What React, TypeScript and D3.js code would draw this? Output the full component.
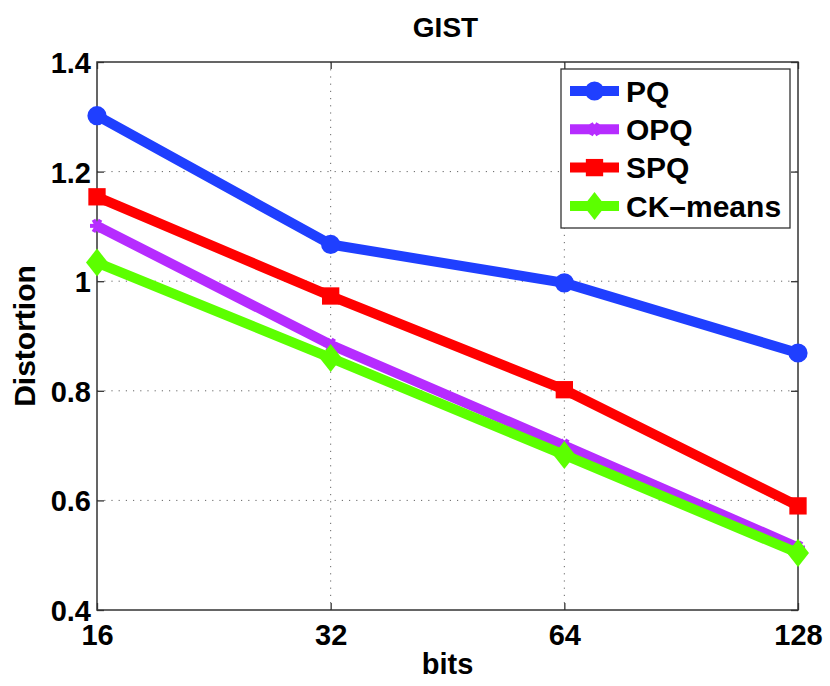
import { useEffect, useRef } from 'react'
import { select, scaleLog, scaleLinear, axisBottom, axisLeft, axisTop, axisRight, line, symbol, symbolCircle, symbolSquare, symbolDiamond } from 'd3'

const bits = [16, 32, 64, 128]
const yTicks = [0.4, 0.6, 0.8, 1, 1.2, 1.4]
const pq = [1.302, 1.067, 0.997, 0.869]
const opq = [1.101, 0.884, 0.700, 0.514]
const spq = [1.154, 0.973, 0.802, 0.590]
const ckmeans = [1.034, 0.860, 0.683, 0.504]

const series = [
  { name: 'PQ', values: pq, color: '#1f3fff', marker: 'circle' },
  { name: 'OPQ', values: opq, color: '#b62cff', marker: 'star' },
  { name: 'SPQ', values: spq, color: '#ff0000', marker: 'square' },
  { name: 'CK\u2013means', values: ckmeans, color: '#5cff00', marker: 'diamond' },
]

const W = 830
const H = 686
const left = 97
const right = 798
const top = 62
const bottom = 610
const font = 'Liberation Sans, Arial, Helvetica, sans-serif'

function drawMarker(g: any, kind: string, cx: number, cy: number, color: string) {
  if (kind === 'circle') {
    g.append('path').attr('d', symbol(symbolCircle, 290)()).attr('transform', `translate(${cx},${cy})`).attr('fill', color)
  } else if (kind === 'square') {
    g.append('path').attr('d', symbol(symbolSquare, 300)()).attr('transform', `translate(${cx},${cy})`).attr('fill', color)
  } else if (kind === 'diamond') {
    g.append('path')
      .attr('d', 'M0,-14L11,0L0,14L-11,0Z')
      .attr('transform', `translate(${cx},${cy})`)
      .attr('fill', color)
  } else {
    // small asterisk, mostly hidden under the line
    for (let a = 0; a < 3; a++) {
      const ang = (a * Math.PI) / 3
      g.append('line')
        .attr('x1', cx - 7 * Math.cos(ang)).attr('y1', cy - 7 * Math.sin(ang))
        .attr('x2', cx + 7 * Math.cos(ang)).attr('y2', cy + 7 * Math.sin(ang))
        .attr('stroke', color).attr('stroke-width', 4)
    }
  }
}

export default function App() {
  const svgRef = useRef<SVGSVGElement | null>(null)

  useEffect(() => {
    const svg = select(svgRef.current)
    svg.selectAll('*').remove()

    const x = scaleLog().base(2).domain([16, 128]).range([left, right])
    const y = scaleLinear().domain([0.4, 1.4]).range([bottom, top])

    // grid
    const grid = svg.append('g')
    grid.selectAll('.gx').data(bits.slice(1, -1)).join('line')
      .attr('x1', (d) => x(d)).attr('x2', (d) => x(d)).attr('y1', top).attr('y2', bottom)
      .attr('stroke', '#666').attr('stroke-width', 1).attr('stroke-dasharray', '1.2,6')
    grid.selectAll('.gy').data(yTicks.slice(1, -1)).join('line')
      .attr('y1', (d) => y(d)).attr('y2', (d) => y(d)).attr('x1', left).attr('x2', right)
      .attr('stroke', '#666').attr('stroke-width', 1).attr('stroke-dasharray', '1.2,6')

    // axes
    const styleAxis = (g: any) => {
      g.select('.domain').remove()
      g.selectAll('.tick line').attr('stroke', '#333').attr('stroke-width', 1.3)
      g.selectAll('text').attr('font-family', font).attr('font-weight', 'bold').attr('font-size', 29).attr('fill', '#000')
    }
    const xa = svg.append('g').attr('transform', `translate(0,${bottom})`)
      .call(axisBottom(x).tickValues(bits).tickFormat((d: any) => String(d)).tickSize(-7) as any)
    styleAxis(xa)
    xa.selectAll('text').attr('y', 35).attr('dy', 0)

    const ya = svg.append('g').attr('transform', `translate(${left},0)`)
      .call(axisLeft(y).tickValues(yTicks).tickFormat((d: any) => String(d)).tickSize(-7) as any)
    styleAxis(ya)
    ya.selectAll('text').attr('x', -6).attr('dy', '0.36em')

    const xt = svg.append('g').attr('transform', `translate(0,${top})`)
      .call(axisTop(x).tickValues(bits).tickFormat(() => '').tickSize(-7) as any)
    styleAxis(xt)
    const yr = svg.append('g').attr('transform', `translate(${right},0)`)
      .call(axisRight(y).tickValues(yTicks).tickFormat(() => '').tickSize(-7) as any)
    styleAxis(yr)

    svg.append('rect')
      .attr('x', left).attr('y', top).attr('width', right - left).attr('height', bottom - top)
      .attr('fill', 'none').attr('stroke', '#333').attr('stroke-width', 1.5)

    // series
    const ln = line<number>().x((_, i) => x(bits[i])).y((d) => y(d))
    series.forEach((s) => {
      const g = svg.append('g')
      g.append('path').attr('d', ln(s.values)).attr('fill', 'none').attr('stroke', s.color)
        .attr('stroke-width', 10).attr('stroke-linejoin', 'round')
      s.values.forEach((v, i) => drawMarker(g, s.marker, x(bits[i]), y(v), s.color))
    })

    // legend
    const lg = svg.append('g')
    lg.append('rect').attr('x', 561).attr('y', 69).attr('width', 229).attr('height', 159)
      .attr('fill', '#fff').attr('stroke', '#333').attr('stroke-width', 1.3)
    series.forEach((s, i) => {
      const ly = 91 + i * 38.3
      lg.append('line').attr('x1', 570).attr('x2', 619).attr('y1', ly).attr('y2', ly)
        .attr('stroke', s.color).attr('stroke-width', 10)
      drawMarker(lg, s.marker, 594.5, ly, s.color)
      lg.append('text').attr('x', 626).attr('y', ly).attr('dy', '0.36em')
        .attr('font-family', font).attr('font-weight', 'bold').attr('font-size', 30).text(s.name)
    })

    // titles
    svg.append('text').attr('x', (left + right) / 2 - 2).attr('y', 37).attr('text-anchor', 'middle')
      .attr('font-family', font).attr('font-weight', 'bold').attr('font-size', 28).text('GIST')
    svg.append('text').attr('x', (left + right) / 2).attr('y', 674).attr('text-anchor', 'middle')
      .attr('font-family', font).attr('font-weight', 'bold').attr('font-size', 29).text('bits')
    svg.append('text').attr('transform', `translate(35,${(top + bottom) / 2}) rotate(-90)`)
      .attr('text-anchor', 'middle')
      .attr('font-family', font).attr('font-weight', 'bold').attr('font-size', 30).text('Distortion')
  }, [])

  return (
    <svg
      ref={svgRef}
      width={W}
      height={H}
      style={{ position: 'absolute', left: 0, top: 0, background: '#fff' }}
    />
  )
}
